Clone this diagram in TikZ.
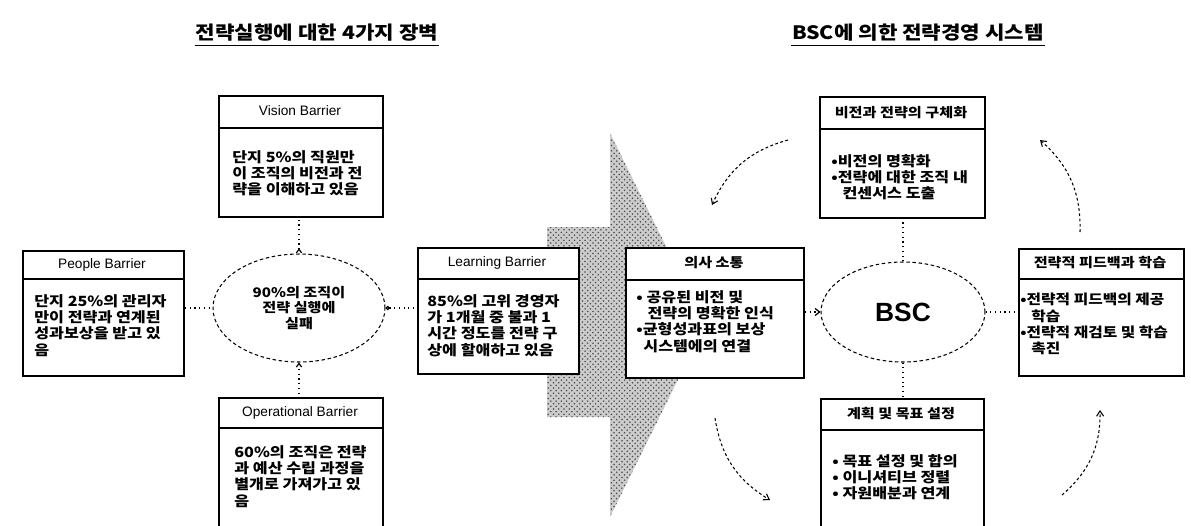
\documentclass[tikz,border=0pt]{standalone}
\usepackage{fontspec}
\setmainfont{Liberation Sans}
\newfontfamily\kr{Noto Sans CJK KR}[FakeStretch=1.15]
\usetikzlibrary{arrows.meta,calc,patterns,shapes.geometric}
\begin{document}
\begin{tikzpicture}[x=0.02cm,y=-0.02cm,
 box/.style={draw, line width=1.1pt, fill=white, inner sep=0, rectangle, anchor=north west},
 hdr/.style={font=\fontsize{7.8}{9}\selectfont, inner sep=0},
 khdr/.style={font=\kr\bfseries\fontsize{7.5}{9}\selectfont, inner sep=0},
 body/.style={font=\kr\bfseries\fontsize{8}{9.3}\selectfont, align=left, inner sep=0, anchor=north west},
 divl/.style={line width=1.1pt},
 conn/.style={dotted, line width=0.7pt},
 oval/.style={ellipse, draw, dash pattern=on 2pt off 1.5pt, line width=0.6pt, inner sep=0},
 cyc/.style={dash pattern=on 1.6pt off 1.4pt, line width=0.6pt, -{Straight Barb[length=3pt,width=4pt]}},
 ttl/.style={font=\kr\bfseries\fontsize{10.5}{12}\selectfont, inner sep=0.5pt},
 uline/.style={line width=0.9pt}
]
\useasboundingbox (0,0) rectangle (1191,525);
\clip (0,0) rectangle (1191,525);

% titles
\node[ttl] (t1) at (317,33) {전략실행에 대한 4가지 장벽};
\draw[uline] ([yshift=-1.5pt]t1.south west) -- ([yshift=-1.5pt]t1.south east);
\node[ttl] (t2) at (918,33) {BSC에 의한 전략경영 시스템};
\draw[uline] ([yshift=-1.5pt]t2.south west) -- ([yshift=-1.5pt]t2.south east);

% big shaded arrow
\fill[black!20] (547,227) -- (610,227) -- (610,133) -- (705,325) -- (610,517) -- (610,417) -- (547,417) -- cycle;
\fill[pattern=crosshatch dots, pattern color=black!70] (547,227) -- (610,227) -- (610,133) -- (705,325) -- (610,517) -- (610,417) -- (547,417) -- cycle;

% ---------- left part ----------
\node[box, minimum width=3.28cm, minimum height=2.42cm] (vis) at (218,95) {};
\draw[divl] ($(vis.north west)+(0,33)$) -- ($(vis.north east)+(0,33)$);
\node[hdr] (vish) at (300,111) {Vision Barrier};
\node[body] (visb) at (232,150) {단지 5\%의 직원만\\이 조직의 비전과 전\\략을 이해하고 있음};

\node[box, minimum width=3.22cm, minimum height=2.5cm] (peo) at (22,250) {};
\draw[divl] ($(peo.north west)+(0,29)$) -- ($(peo.north east)+(0,29)$);
\node[hdr] (peoh) at (102,265) {People Barrier};
\node[body] (peob) at (34,294) {단지 25\%의 관리자\\만이 전략과 연계된\\성과보상을 받고 있\\음};

\node[box, minimum width=3.22cm, minimum height=2.52cm] (lrn) at (417,247) {};
\draw[divl] ($(lrn.north west)+(0,32)$) -- ($(lrn.north east)+(0,32)$);
\node[hdr] (lrnh) at (497,263) {Learning Barrier};
\node[body] (lrnb) at (427,294) {85\%의 고위 경영자\\가 1개월 중 불과 1\\시간 정도를 전략 구\\상에 할애하고 있음};

\node[box, minimum width=3.28cm, minimum height=2.8cm] (opr) at (218,397) {};
\draw[divl] ($(opr.north west)+(0,31)$) -- ($(opr.north east)+(0,31)$);
\node[hdr] (oprh) at (300,413) {Operational Barrier};
\node[body] (oprb) at (234,445) {60\%의 조직은 전략\\과 예산 수립 과정을\\별개로 가져가고 있\\음};

\node[oval, minimum width=3.44cm, minimum height=2.16cm, font=\kr\bfseries\fontsize{7.5}{9}\selectfont, align=center] (e1) at (299,308) {90\%의 조직이\\전략 실행에\\실패};

\draw[conn] (e1.west -| peo.east) -- (e1.west);
\draw[conn, {Circle[open,length=2.5pt]}-] (e1.east) -- (e1.east -| lrn.west);
\draw[conn, {Straight Barb[reversed,length=2pt,width=3pt]}-] (e1.north) -- (e1.north |- vis.south);
\draw[conn, {Straight Barb[length=2pt,width=3pt]}-] (e1.south) -- (e1.south |- opr.north);

% ---------- right part ----------
\node[box, minimum width=3.56cm, minimum height=2.6cm] (com) at (625,247) {};
\draw[divl] ($(com.north west)+(0,33)$) -- ($(com.north east)+(0,33)$);
\node[khdr] (comh) at (714,263) {의사 소통};
\node[body] (comb) at (636,290) {• 공유된 비전 및\\\hspace{0.8em}전략의 명확한 인식\\•균형성과표의 보상\\\hspace{0.5em}시스템에의 연결};

\node[box, minimum width=3.3cm, minimum height=2.42cm] (viz) at (819,96) {};
\draw[divl] ($(viz.north west)+(0,33)$) -- ($(viz.north east)+(0,33)$);
\node[khdr] (vizh) at (901,113) {비전과 전략의 구체화};
\node[body] (vizb) at (831,154) {•비전의 명확화\\•전략에 대한 조직 내\\\hspace{0.8em}컨센서스 도출};

\node[box, minimum width=3.3cm, minimum height=2.54cm] (fb) at (1018,248) {};
\draw[divl] ($(fb.north west)+(0,31)$) -- ($(fb.north east)+(0,31)$);
\node[khdr] (fbh) at (1100,263) {전략적 피드백과 학습};
\node[body, font=\kr\bfseries\fontsize{7.8}{9.3}\selectfont] (fbb) at (1020,293) {•전략적 피드백의 제공\\\hspace{0.8em}학습\\•전략적 재검토 및 학습\\\hspace{0.8em}촉진};

\node[box, minimum width=3.26cm, minimum height=2.8cm] (pln) at (820,398) {};
\draw[divl] ($(pln.north west)+(0,32)$) -- ($(pln.north east)+(0,32)$);
\node[khdr] (plnh) at (901,414) {계획 및 목표 설정};
\node[body] (plnb) at (832,454) {• 목표 설정 및 합의\\• 이니셔티브 정렬\\• 자원배분과 연계};

\node[oval, minimum width=3.28cm, minimum height=2.0cm, font=\bfseries\fontsize{15}{18}\selectfont] (bsc) at (903,312) {BSC};

\draw[conn, -{Straight Barb[length=2.5pt,width=4pt]}] (com.east |- bsc.west) -- (bsc.west);
\draw[conn] (bsc.north) -- (bsc.north |- viz.south);
\draw[conn] (bsc.south) -- (bsc.south |- pln.north);
\draw[conn] (bsc.east) -- (bsc.east -| fb.west);

% cycle arcs
\coordinate (a1s) at (788,140); \coordinate (a1e) at (712,205);
\coordinate (a2s) at (1080,232); \coordinate (a2e) at (1040,140);
\coordinate (a3s) at (1062,495); \coordinate (a3e) at (1100,410);
\coordinate (a4s) at (715,418); \coordinate (a4e) at (770,500);
\draw[cyc] (a1s) to[bend right=25] (a1e);
\draw[cyc] (a2s) to[bend right=25] (a2e);
\draw[cyc] (a3s) to[bend right=25] (a3e);
\draw[cyc] (a4s) to[bend right=25] (a4e);
\end{tikzpicture}
\end{document}
